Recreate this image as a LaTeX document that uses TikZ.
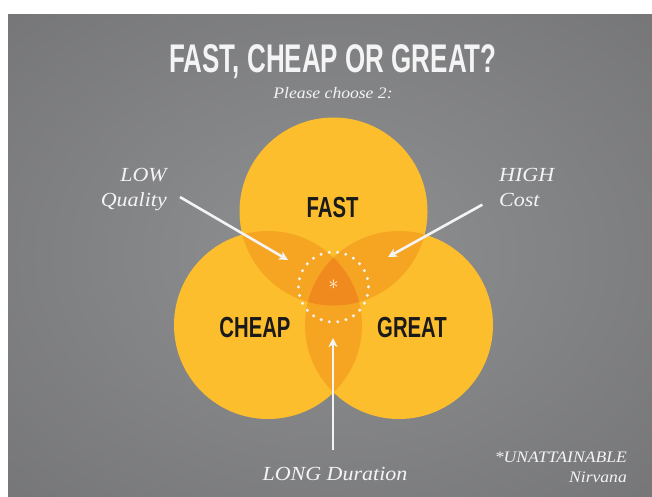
\documentclass[tikz,border=0pt]{standalone}
\usepackage{fontspec}
\usepackage{xcolor}
\usetikzlibrary{arrows.meta,positioning,calc}
\newfontfamily\titlefont{Liberation Sans}[FakeStretch=0.65]
\newfontfamily\setfont{Liberation Sans}[FakeStretch=0.7]
\newfontfamily\notefont{Liberation Serif}[FakeStretch=1.1]
\definecolor{bgout}{HTML}{6C6C6E}
\definecolor{bgin}{HTML}{8F9092}
\definecolor{sunny}{HTML}{FCBE2D}
\definecolor{amber}{HTML}{F6A523}
\definecolor{ember}{HTML}{F08A1E}
\definecolor{ink}{HTML}{1A1A1A}
\definecolor{chalk}{HTML}{F4F4F4}
\pgfdeclareradialshading{backdrop}{\pgfpoint{0bp}{0bp}}{color(0bp)=(bgin); color(50bp)=(bgout); color(75bp)=(bgout)}

\begin{document}
\begin{tikzpicture}[x=1pt,y=-1pt,
    pointer/.style={chalk,line width=2.6pt,-{Stealth[length=9pt,width=9pt,inset=2.5pt]}},
    setname/.style={text=ink,anchor=base,font=\setfont\bfseries\fontsize{29}{29}\selectfont},
    note/.style={text=chalk,font=\notefont\itshape\fontsize{20}{25}\selectfont}]
        \useasboundingbox (0,0) rectangle (652,496);
        \fill[white] (0,0) rectangle (652,496);
        \shade[shading=backdrop] (8,14) rectangle (652,496);

        %centres
        \coordinate (fast) at (333.5,211.5);
        \coordinate (cheap) at (268,325);
        \coordinate (great) at (399,325);
        \coordinate (middle) at (333.5,287);

        %circles
        \fill[sunny] (fast) circle (94) (cheap) circle (94) (great) circle (94);

        %overlaps
        \begin{scope}
            \clip (fast) circle (94);
            \fill[amber] (cheap) circle (94) (great) circle (94);
        \end{scope}
        \begin{scope}
            \clip (cheap) circle (94);
            \fill[amber] (great) circle (94);
        \end{scope}
        \begin{scope}
            \clip (fast) circle (94);
            \clip (cheap) circle (94);
            \fill[ember] (great) circle (94);
        \end{scope}

        %nirvana ring
        \draw[chalk,line width=3.3pt,line cap=round,dash pattern=on 0pt off 8.45pt] (middle) circle (35);

        \begin{scope}[every node/.style={inner sep=0pt}]
            %heading
            \node[text=chalk,anchor=base,font=\titlefont\bfseries\fontsize{40}{40}\selectfont] (title) at (333,72) {FAST, CHEAP OR GREAT?};
            \node[text=chalk,below=9pt of title,font=\notefont\itshape\fontsize{16}{16}\selectfont] (subtitle) {Please choose 2:};

            %sets
            \node[setname] (fastlbl) at (332.5,217) {FAST};
            \node[setname] (cheaplbl) at (255,337) {CHEAP};
            \node[setname] (greatlbl) at (412,337) {GREAT};
            \node[text=white!85!sunny,font=\fontsize{22}{22}\selectfont] (star) at (333.5,285) {$\ast$};

            %notes
            \node[note,align=right,anchor=north east] (lowlbl) at (167,168) {LOW\\Quality};
            \node[note,align=left,anchor=north west] (highlbl) at (499,168) {HIGH\\Cost};
            \node[note,anchor=base] (longlbl) at (335,480) {LONG Duration};
            \node[note,align=right,anchor=north east,font=\notefont\itshape\fontsize{16}{20}\selectfont] (nirvana) at (627,452) {*UNATTAINABLE\\Nirvana};
        \end{scope}

        %arrows
        \coordinate (lowtip) at (288,260);
        \coordinate (hightip) at (388,257);
        \coordinate (longtip) at (333,338);
        \draw[pointer,shorten <=15pt] (lowlbl.east) -- (lowtip);
        \draw[pointer,shorten <=19pt] ([yshift=-8pt]highlbl.west) -- (hightip);
        \draw[pointer,shorten <=17pt] (longlbl.north -| longtip) -- (longtip);
    \end{tikzpicture}
\end{document}
